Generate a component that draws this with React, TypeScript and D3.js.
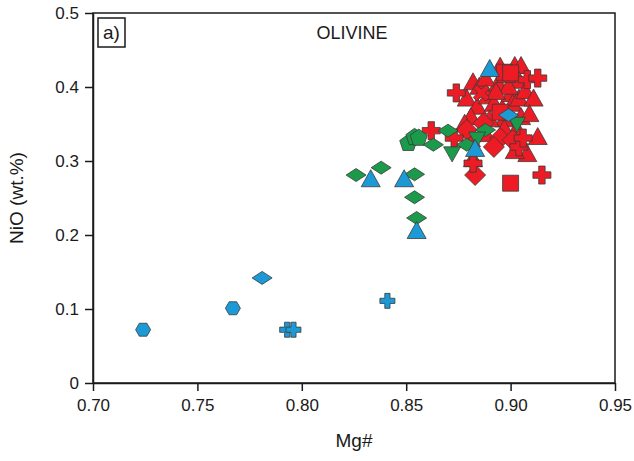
import * as d3 from 'd3'
import React from 'react';
import { useEffect, useRef } from 'react';

// Mg#, NiO pairs
const redTriangles = [
    [0.882, 0.405], [0.885, 0.399], [0.879, 0.383], [0.884, 0.372], [0.881, 0.358],
    [0.878, 0.349], [0.889, 0.386], [0.892, 0.376], [0.894, 0.403], [0.896, 0.369],
    [0.897, 0.355], [0.900, 0.389], [0.902, 0.427], [0.905, 0.427], [0.904, 0.407],
    [0.901, 0.376], [0.904, 0.383], [0.907, 0.393], [0.911, 0.383], [0.913, 0.331],
    [0.903, 0.342], [0.905, 0.358], [0.897, 0.342], [0.890, 0.355], [0.888, 0.410],
    [0.909, 0.362], [0.895, 0.426], [0.899, 0.399], [0.882, 0.301], [0.908, 0.308],
    [0.902, 0.312], [0.881, 0.328], [0.888, 0.335], [0.898, 0.415], [0.893, 0.392]
]
const redSquares = [[0.897, 0.420], [0.900, 0.419], [0.900, 0.270], [0.895, 0.366]]
const redDiamonds = [[0.883, 0.281], [0.895, 0.331], [0.892, 0.319], [0.879, 0.342], [0.887, 0.351], [0.901, 0.328]]
const redCrosses = [
    [0.862, 0.341], [0.874, 0.392], [0.873, 0.331], [0.908, 0.410], [0.913, 0.412],
    [0.904, 0.319], [0.915, 0.281], [0.906, 0.331], [0.882, 0.297]
]
const redX = [[0.886, 0.392]]
const greenDiamonds = [
    [0.826, 0.281], [0.838, 0.291], [0.854, 0.282], [0.854, 0.251], [0.855, 0.223],
    [0.863, 0.322], [0.870, 0.341], [0.879, 0.322], [0.888, 0.342]
]
const greenPentagons = [[0.851, 0.324], [0.854, 0.332], [0.856, 0.331]]
const greenDownTriangles = [[0.872, 0.311], [0.884, 0.331], [0.903, 0.351]]
const blueHexagons = [[0.724, 0.072], [0.767, 0.101]]
const blueDiamonds = [[0.781, 0.142], [0.899, 0.362]]
const blueCrosses = [[0.793, 0.072], [0.796, 0.072], [0.841, 0.111]]
const blueTriangles = [[0.833, 0.274], [0.849, 0.274], [0.855, 0.204], [0.883, 0.315], [0.890, 0.423]]

const xTicks = [0.70, 0.75, 0.80, 0.85, 0.90, 0.95]
const yTicks = [0, 0.1, 0.2, 0.3, 0.4, 0.5]

const RED = '#ed1c24'
const GREEN = '#1b9a4b'
const BLUE = '#1c9ad6'

const poly = (pts: [number, number][]) => d3.line().curve(d3.curveLinearClosed)(pts) as string
const plus = (a: number, w: number): [number, number][] => [
    [-w, -a], [w, -a], [w, -w], [a, -w], [a, w], [w, w], [w, a], [-w, a], [-w, w], [-a, w], [-a, -w], [-w, -w]
]
const rot45 = (pts: [number, number][]): [number, number][] =>
    pts.map(([x, y]) => [(x - y) * Math.SQRT1_2, (x + y) * Math.SQRT1_2])
const ngon = (n: number, r: number, start: number): [number, number][] =>
    d3.range(n).map(i => [r * Math.cos(start + i * 2 * Math.PI / n), r * Math.sin(start + i * 2 * Math.PI / n)])

const shapes: { [k: string]: string } = {
    triangle: poly([[0, -10.5], [9.5, 6.5], [-9.5, 6.5]]),
    downTriangle: poly([[0, 9], [8.5, -6], [-8.5, -6]]),
    square: poly([[-8, -8], [8, -8], [8, 8], [-8, 8]]),
    diamond: poly([[0, -10.5], [10.5, 0], [0, 10.5], [-10.5, 0]]),
    flatDiamond: poly([[0, -6.5], [10, 0], [0, 6.5], [-10, 0]]),
    cross: poly(plus(9, 3.2)),
    smallCross: poly(plus(7.5, 2.6)),
    x: poly(rot45(plus(9, 2.6))),
    hexagon: poly(ngon(6, 7.5, 0)),
    pentagon: poly(ngon(5, 9, -Math.PI / 2)),
}

const series = [
    { data: redTriangles, shape: 'triangle', color: RED },
    { data: redSquares, shape: 'square', color: RED },
    { data: redDiamonds, shape: 'diamond', color: RED },
    { data: redCrosses, shape: 'cross', color: RED },
    { data: redX, shape: 'x', color: RED },
    { data: greenPentagons, shape: 'pentagon', color: GREEN },
    { data: greenDiamonds, shape: 'flatDiamond', color: GREEN },
    { data: greenDownTriangles, shape: 'downTriangle', color: GREEN },
    { data: blueHexagons, shape: 'hexagon', color: BLUE },
    { data: blueDiamonds, shape: 'flatDiamond', color: BLUE },
    { data: blueCrosses, shape: 'smallCross', color: BLUE },
    { data: blueTriangles, shape: 'triangle', color: BLUE },
]

const App = () => {
    const r = useRef<SVGSVGElement>(null)
    const left = 93, right = 615, top = 13, bottom = 383
    const font = 'Liberation Sans, Arial, sans-serif'

    useEffect(() => {
        const svg = d3.select(r.current)
        svg.selectAll('*').remove()
        const x = d3.scaleLinear().domain([0.70, 0.95]).range([left, right])
        const y = d3.scaleLinear().domain([0, 0.5]).range([bottom, top])

        // frame
        svg.append('rect')
            .attr('x', left).attr('y', top)
            .attr('width', right - left).attr('height', bottom - top)
            .attr('fill', 'none').attr('stroke', '#1a1a1a').attr('stroke-width', 1.5)

        const xAxis = svg.append('g')
            .attr('transform', `translate(0 ${bottom})`)
            .call(d3.axisBottom(x).tickValues(xTicks).tickFormat(d3.format('.2f')).tickSize(8).tickPadding(8).tickSizeOuter(0))
        const yAxis = svg.append('g')
            .attr('transform', `translate(${left} 0)`)
            .call(d3.axisLeft(y).tickValues(yTicks).tickFormat((d: any) => d === 0 ? '0' : d3.format('.1f')(d)).tickSize(8).tickPadding(6).tickSizeOuter(0))
        for (const a of [xAxis, yAxis]) {
            a.select('.domain').attr('stroke', '#1a1a1a').attr('stroke-width', 1.5)
            a.selectAll('.tick line').attr('stroke', '#1a1a1a').attr('stroke-width', 1.5)
            a.selectAll('.tick text').attr('fill', '#1a1a1a').attr('font-size', 17).attr('font-family', font)
        }

        svg.append('text')
            .attr('x', (left + right) / 2).attr('y', 447)
            .attr('text-anchor', 'middle').attr('font-size', 19).attr('font-family', font).attr('fill', '#1a1a1a')
            .text('Mg#')
        svg.append('text')
            .attr('transform', `translate(23 ${(top + bottom) / 2}) rotate(-90)`)
            .attr('text-anchor', 'middle').attr('font-size', 19).attr('font-family', font).attr('fill', '#1a1a1a')
            .text('NiO (wt.%)')

        // panel label and title
        svg.append('rect')
            .attr('x', 98).attr('y', 18).attr('width', 27).attr('height', 29)
            .attr('fill', 'none').attr('stroke', '#1a1a1a').attr('stroke-width', 1.5)
        svg.append('text')
            .attr('x', 111.5).attr('y', 39)
            .attr('text-anchor', 'middle').attr('font-size', 19).attr('font-family', font).attr('fill', '#1a1a1a')
            .text('a)')
        svg.append('text')
            .attr('x', 352).attr('y', 39)
            .attr('text-anchor', 'middle').attr('font-size', 18).attr('font-family', font).attr('fill', '#1a1a1a')
            .text('OLIVINE')

        const marks = svg.append('g')
        for (const s of series) {
            marks.append('g')
                .selectAll('path')
                .data(s.data)
                .join('path')
                .attr('d', shapes[s.shape])
                .attr('transform', d => `translate(${x(d[0])} ${y(d[1])})`)
                .attr('fill', s.color)
                .attr('stroke', '#3a3a3a')
                .attr('stroke-width', 0.8)
                .attr('stroke-linejoin', 'round')
        }
    }, [])

    return (
        <svg ref={r} width={634} height={461} viewBox={'0 0 634 461'}
            style={{ position: 'absolute', left: 0, top: 0, background: '#fff' }}>
        </svg>
    )
}

export default App
